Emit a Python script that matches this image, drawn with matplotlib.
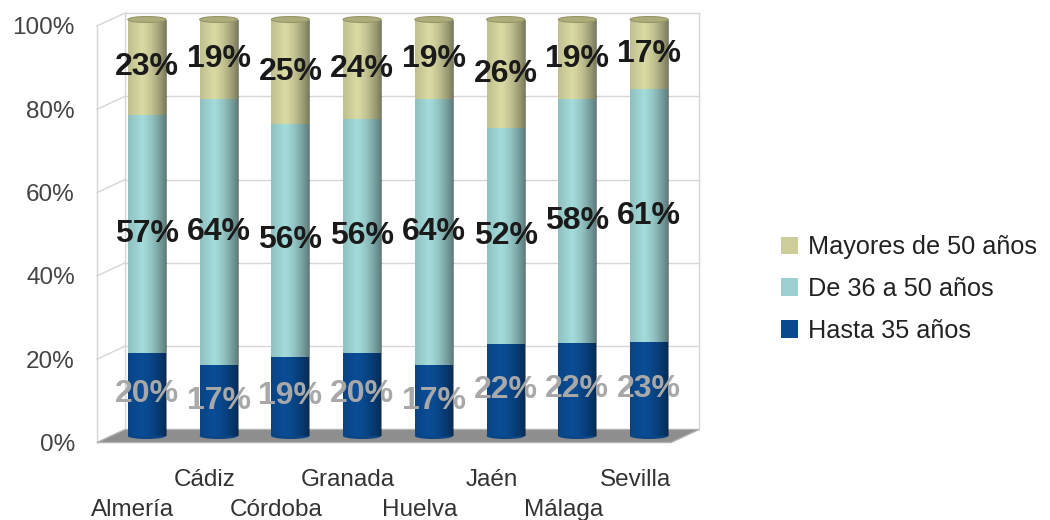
import numpy as np
import matplotlib
matplotlib.use("Agg")
import matplotlib.pyplot as plt
import matplotlib.transforms as mtransforms
from matplotlib.patches import Patch, Ellipse, Polygon

plt.rcParams['font.family'] = ['Liberation Sans', 'DejaVu Sans']

# data (percent per province)
provincias = ['Almería', 'Cádiz', 'Córdoba', 'Granada', 'Huelva', 'Jaén', 'Málaga', 'Sevilla']
hasta_35 = [20, 17, 19, 20, 17, 22, 22.4, 22.6]
de_36_50 = [57, 64, 56, 56, 64, 52, 58.4, 60.6]
mayores_50 = [23, 19, 25, 24, 19, 26, 19.2, 16.8]
series_names = ['Hasta 35 años', 'De 36 a 50 años', 'Mayores de 50 años']
yticks = [0, 20, 40, 60, 80, 100]

colors = ['#0a4d96', '#a3dada', '#d9d9a3']
legend_colors = ['#0a4a8c', '#9ccfcf', '#cdcd9a']
label_colors = ['#a8a8a8', '#1a1a1a', '#1a1a1a']

fig = plt.figure(figsize=(10.5, 5.2), dpi=100)
ax = fig.add_axes([111 / 1050, 84 / 520, 574 / 1050, 416.5 / 520])

x = np.arange(len(provincias))
w = 0.53
xmin, xmax = -0.5, len(provincias) - 0.5
# depth offset of back wall / front plane (pixels -> data units)
px_x = 574 / (xmax - xmin)
px_y = 416.5 / 100
DX = 14 / px_x
DY = 6.5 / px_y
grid_c = '#d6d6d6'

# back wall, left wall and floor
for yt in yticks[1:]:
    ax.plot([xmin + DX, xmax + DX], [yt + DY, yt + DY], color=grid_c, lw=1, zorder=1, clip_on=False)
    ax.plot([xmin - DX, xmin + DX], [yt - DY, yt + DY], color=grid_c, lw=1, zorder=1, clip_on=False)
ax.plot([xmin + DX, xmin + DX], [DY, 100 + DY], color=grid_c, lw=1, zorder=1, clip_on=False)
ax.plot([xmax + DX, xmax + DX], [DY, 100 + DY], color=grid_c, lw=1, zorder=1, clip_on=False)
ax.plot([xmin - DX, xmin - DX], [-DY, 100 - DY], color=grid_c, lw=1, zorder=1, clip_on=False)
floor = Polygon([(xmin - DX, -DY), (xmax - DX, -DY), (xmax + DX, DY), (xmin + DX, DY)],
                closed=True, facecolor='#8e8e8e', edgecolor='#b0b0b0', lw=1, zorder=2, clip_on=False)
ax.add_patch(floor)

# cylinder shading profile
u = np.linspace(0, 1, 80)
alpha = np.where(u < 0.35, 0.12 * (0.35 - u) / 0.35, 0.45 * ((u - 0.35) / 0.65) ** 1.5)
shade = np.zeros((1, len(u), 4))
shade[0, :, 3] = alpha

bottom = np.zeros(len(provincias))
for vals, color, lcol in zip([hasta_35, de_36_50, mayores_50], colors, label_colors):
    vals = np.array(vals)
    bars = ax.bar(x, vals, w, bottom=bottom, color=color, linewidth=0, zorder=3)
    for p in bars.patches:
        im = ax.imshow(shade, extent=[p.get_x(), p.get_x() + p.get_width(), p.get_y(), p.get_y() + p.get_height()],
                       aspect='auto', zorder=4, interpolation='bilinear')
        im.set_clip_path(p)
    ax.bar_label(bars, labels=[f'{v:.0f}%' for v in vals], label_type='center',
                 fontsize=23, fontweight='bold', color=lcol, zorder=6)
    bottom = bottom + vals

# rounded bottoms and tops of the cylinders
cap_h = 6 / px_y
for xi, top in zip(x, bottom):
    ax.add_patch(Ellipse((xi, 0), w, cap_h, facecolor='#0a4585', lw=0, zorder=2.5, clip_on=False))
    ax.add_patch(Ellipse((xi, top), w, cap_h, facecolor='#adad7c', edgecolor='#96966a', lw=0.8, zorder=5, clip_on=False))

ax.set_xlim(xmin, xmax)
ax.set_ylim(0, 100)
for s in ax.spines.values():
    s.set_visible(False)

ax.set_yticks(yticks)
ax.set_yticklabels([f'{t}%' for t in yticks], fontsize=17.5, color='#444444')
ax.tick_params(axis='y', length=0, pad=26)

# staggered category labels: upper row on minor ticks, lower row on major ticks
ax.set_xticks(x[0::2])
ax.set_xticklabels(provincias[0::2], fontsize=17.5, color='#333333')
ax.set_xticks(x[1::2], minor=True)
ax.set_xticklabels(provincias[1::2], minor=True, fontsize=17.5, color='#333333')
ax.tick_params(axis='x', which='major', length=0, pad=41)
ax.tick_params(axis='x', which='minor', length=0, pad=19)

off_y = mtransforms.ScaledTranslation(0, -DY * px_y / 100, fig.dpi_scale_trans)
for lab in ax.get_yticklabels():
    lab.set_transform(lab.get_transform() + off_y)
off_x = mtransforms.ScaledTranslation(-DX * px_x / 100, -DY * px_y / 100, fig.dpi_scale_trans)
for lab in ax.get_xticklabels() + ax.get_xticklabels(minor=True):
    lab.set_transform(lab.get_transform() + off_x)

handles = [Patch(facecolor=c, edgecolor='none', label=n) for c, n in zip(legend_colors, series_names)][::-1]
fig.legend(handles=handles, loc='center left', bbox_to_anchor=(781 / 1050, 231 / 520),
           frameon=False, fontsize=18.2, handlelength=0.68, handleheight=0.68,
           handletextpad=0.4, labelspacing=0.7, borderpad=0, borderaxespad=0,
           labelcolor='#222222')

fig.savefig('out.png', dpi=100)
